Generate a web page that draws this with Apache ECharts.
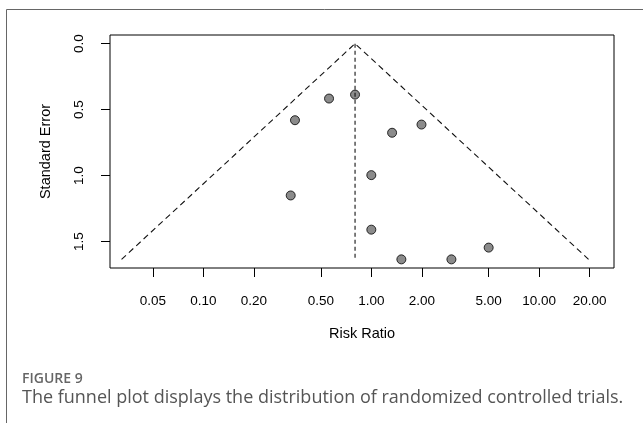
<!DOCTYPE html>
<html>
  <head>
    <meta charset="utf-8" />
    <title>Funnel plot</title>
    <style type="text/css">
      html,
      body {
        margin: 0;
        padding: 0;
        background: #fff;
      }
    </style>
    <script src="https://cdn.jsdelivr.net/npm/echarts@6/dist/echarts.min.js"></script>
  </head>
  <body>
    <div id="chart" style="width: 643px; height: 423px"></div>
    <script type="text/javascript">
      // trials: risk ratio and standard error
      var riskRatio = [0.56, 0.80, 0.351, 1.99, 1.33, 1.00, 0.331, 1.00, 1.51, 3.0, 5.0];
      var stdError = [0.416, 0.386, 0.58, 0.613, 0.675, 0.996, 1.15, 1.409, 1.634, 1.634, 1.545];
      // pooled estimate and funnel depth
      var pooledRR = 0.80;
      var maxSE = 1.634;
      var xTicks = [0.05, 0.1, 0.2, 0.5, 1, 2, 5, 10, 20];
      var yTicks = [0, 0.5, 1.0, 1.5];
      var xRange = [0.02776, 27.9];

      var chart = echarts.init(document.getElementById("chart"));
      var lg = Math.log10;
      var c = lg(pooledRR);
      var half = (1.96 * maxSE) / Math.LN10;
      var pad = maxSE * 0.04;
      var tickFont = { fontFamily: "Liberation Sans", fontSize: 13.5, color: "#000" };
      var titleFont = { fontFamily: "Liberation Sans", fontSize: 14.5, color: "#000" };

      var option = {
        animation: false,
        grid: {
          left: 110,
          right: 29,
          top: 35,
          bottom: 155,
          show: true,
          borderColor: "#000",
          borderWidth: 1,
        },
        xAxis: {
          type: "value",
          min: lg(xRange[0]),
          max: lg(xRange[1]),
          name: "Risk Ratio",
          nameLocation: "middle",
          nameGap: 58,
          nameTextStyle: titleFont,
          axisLine: { show: false, onZero: false },
          splitLine: { show: false },
          axisTick: {
            show: true,
            length: 9,
            lineStyle: { color: "#000" },
            customValues: xTicks.map(lg),
          },
          axisLabel: Object.assign({}, tickFont, {
            margin: 26,
            customValues: xTicks.map(lg),
            formatter: function (v) {
              return Math.pow(10, v).toFixed(2);
            },
          }),
        },
        yAxis: {
          type: "value",
          inverse: true,
          min: -pad,
          max: maxSE + pad,
          name: "Standard Error",
          nameLocation: "middle",
          nameGap: 57,
          nameRotate: 90,
          nameTextStyle: titleFont,
          axisLine: { show: false, onZero: false },
          splitLine: { show: false },
          axisTick: {
            show: true,
            length: 9,
            lineStyle: { color: "#000" },
            customValues: yTicks,
          },
          axisLabel: Object.assign({}, tickFont, {
            margin: 24,
            rotate: 90,
            customValues: yTicks,
            formatter: function (v) {
              return v.toFixed(1);
            },
          }),
        },
        series: [
          {
            type: "line",
            symbol: "none",
            silent: true,
            lineStyle: { color: "#111", width: 1.1, type: [6, 4] },
            data: [
              [c - half, maxSE],
              [c, 0],
              [c + half, maxSE],
            ],
          },
          {
            type: "line",
            symbol: "none",
            silent: true,
            lineStyle: { color: "#111", width: 1.1, type: [4, 3] },
            data: [
              [c, 0],
              [c, maxSE],
            ],
          },
          {
            type: "scatter",
            symbol: "circle",
            symbolSize: 9,
            itemStyle: { color: "#6e6e6e", borderColor: "#000", borderWidth: 1 },
            data: riskRatio.map(function (r, i) {
              return [lg(r), stdError[i]];
            }),
          },
        ],
        graphic: [
          {
            type: "polyline",
            shape: { points: [[6.5, 423], [6.5, 9.5], [643, 9.5]] },
            style: { stroke: "#666", lineWidth: 1, fill: null },
          },
          {
            type: "text",
            left: 22,
            top: 372,
            style: {
              text: "FIGURE 9",
              font: "600 14px 'Open Sans'",
              fill: "#666",
            },
          },
          {
            type: "text",
            left: 22,
            top: 389,
            style: {
              text: "The funnel plot displays the distribution of randomized controlled trials.",
              font: "18px 'Open Sans'",
              fill: "#555",
            },
          },
        ],
      };
      chart.setOption(option);
    </script>
  </body>
</html>
